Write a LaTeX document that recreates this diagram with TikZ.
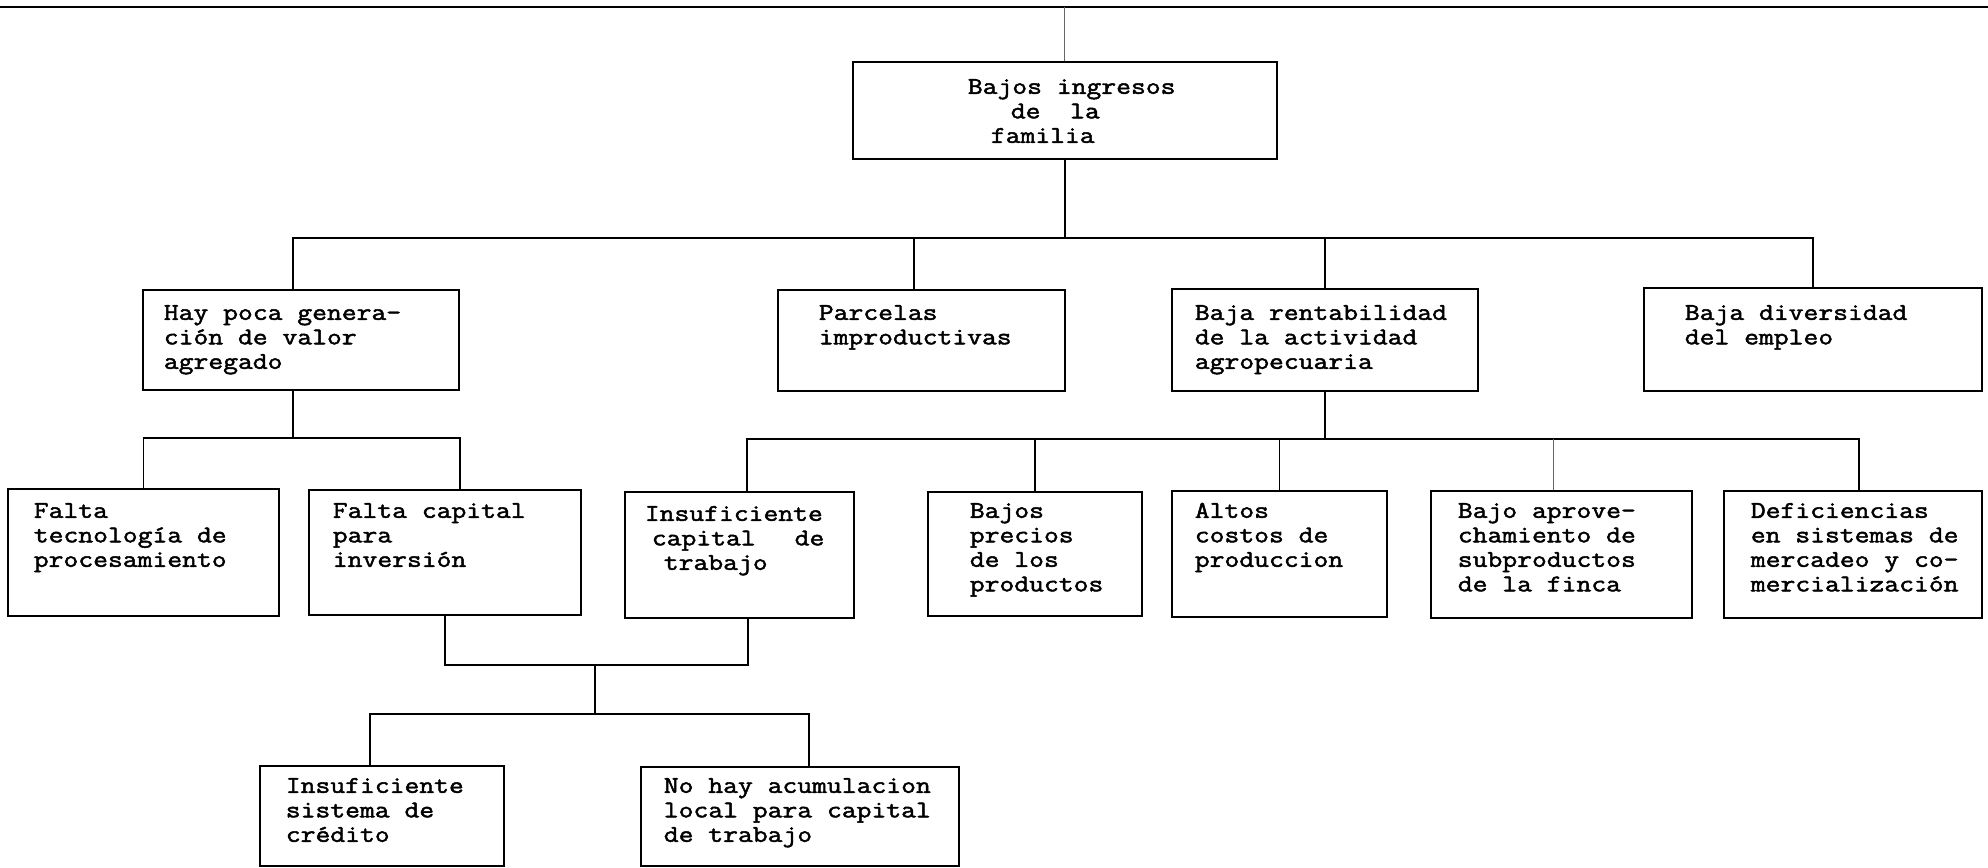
\documentclass[tikz,border=0pt]{standalone}
\usepackage{fontspec}
\setmonofont[FakeBold=2,FakeStretch=1.2]{Latin Modern Mono}
\newcommand\boxfont{\ttfamily\fontsize{24}{24.5}\selectfont}
% #1 name, #2 x1, #3 y1, #4 x2, #5 y2, #6 text x offset, #7 first baseline offset, #8 text
\newcommand\bx[8]{%
  \node[bx, anchor=north west] (#1) at (#2,#3)
  {\parbox[t][\dimexpr#5pt-#3pt\relax][t]{\dimexpr#4pt-#2pt\relax}{%
     \lineskiplimit=-1000pt\raggedright\leftskip=#6pt\relax
     \vspace*{\dimexpr#7pt-22pt\relax}\rule{0pt}{22pt}#8}};}
\tikzset{
  bx/.style={draw, line width=1.7pt, inner sep=0pt, font=\boxfont},
  conn/.style={line width=1.4pt},
  lightconn/.style={line width=0.9pt, black!60},
  topln/.style={line width=2.6pt}
}
\begin{document}
\begin{tikzpicture}[x=1pt,y=-1pt]
\useasboundingbox (0,0) rectangle (1988,867);
% boxes
\bx{root}{852}{61}{1276}{158}{115}{32}{Bajos ingresos\\\hspace*{43pt}de\ \ la\\\hspace*{23pt}familia}
\bx{hay}{142}{289}{458}{389}{21}{30}{Hay poca genera-\\ción de valor\\agregado}
\bx{parc}{777}{289}{1064}{390}{41}{30}{Parcelas\\improductivas}
\bx{rent}{1171}{288}{1477}{390}{23}{31}{Baja rentabilidad\\de la actividad\\agropecuaria}
\bx{div}{1643}{287}{1981}{390}{41}{32}{Baja diversidad\\del empleo}
\bx{ftec}{7}{488}{278}{615}{26}{29}{Falta\\tecnología de\\procesamiento}
\bx{fcap}{308}{489}{580}{614}{24}{28}{Falta capital\\para\\inversión}
\bx{icap}{624}{491}{853}{617}{20}{29}{Insuficiente\\\hspace*{7pt}capital\hspace*{39pt}de\\\hspace*{19pt}trabajo}
\bx{bprec}{927}{491}{1141}{615}{42}{26}{Bajos\\precios\\de los\\productos}
\bx{altos}{1171}{490}{1386}{616}{23}{27}{Altos\\costos de\\produccion}
\bx{baprov}{1430}{490}{1691}{617}{27}{27}{Bajo aprove-\\chamiento de\\subproductos\\de la finca}
\bx{defic}{1723}{490}{1981}{617}{27}{27}{Deficiencias\\en sistemas de\\mercadeo y co-\\mercialización}
\bx{isis}{259}{765}{503}{865}{26}{27}{Insuficiente\\sistema de\\crédito}
\bx{nohay}{640}{766}{958}{865}{23}{26}{No hay acumulacion\\local para capital\\de trabajo}
% top rule
\coordinate (tl) at (0,7);
\coordinate (tr) at (1988,7);
\draw[topln] (tl) -- (tr);
\draw[lightconn] (root.north) -- (root.north |- tl);
% level 1
\coordinate (j1) at (1062,238);
\draw[conn] (root.south) -- (root.south |- j1);
\draw[conn] ([xshift=-8pt]hay.north) |- (div.north |- j1) -- (div.north);
\draw[conn] ([xshift=-7.5pt]parc.north) -- ([xshift=-7.5pt]parc.north |- j1);
\draw[conn] (rent.north) -- (rent.north |- j1);
% level 2 left
\coordinate (j2) at (292,438);
\draw[conn] ([xshift=-8pt]hay.south) -- ([xshift=-8pt]hay.south |- j2);
\draw[conn] (ftec.north) |- ([xshift=15pt]fcap.north |- j2) -- ([xshift=15pt]fcap.north);
% level 2 right
\coordinate (j3) at (1323,439);
\draw[conn] (rent.south) -- (rent.south |- j3);
\draw[conn] ([xshift=7.5pt]icap.north) |- ([xshift=6pt]defic.north |- j3) -- ([xshift=6pt]defic.north);
\draw[conn] (bprec.north) -- (bprec.north |- j3);
\draw[conn] (altos.north) -- (altos.north |- j3);
\draw[lightconn] ([xshift=-7.5pt]baprov.north) -- ([xshift=-7.5pt]baprov.north |- j3);
% level 3
\coordinate (j4) at (595,665);
\coordinate (j5) at (595,714);
\draw[conn] (fcap.south) |- ([xshift=8.5pt]icap.south |- j4) -- ([xshift=8.5pt]icap.south);
\draw[conn] (j4) -- (j5);
\draw[conn] ([xshift=-12pt]isis.north) |- ([xshift=9pt]nohay.north |- j5) -- ([xshift=9pt]nohay.north);
\end{tikzpicture}
\end{document}
